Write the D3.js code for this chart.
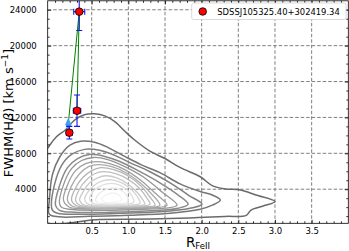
<!DOCTYPE html>
<html>
<head>
<meta charset="utf-8">
<script src="https://cdn.jsdelivr.net/npm/d3@7"></script>
<style>
  html, body { margin: 0; padding: 0; background: #fff; }
  svg { display: block; font-family: "DejaVu Sans", sans-serif; }
</style>
</head>
<body>
<svg id="chart" width="349" height="251"></svg>
<script>
/********************** DATA *************************/
const xTickValues = [0.5, 1.0, 1.5, 2.0, 2.5, 3.0, 3.5];
const yTickValues = [4000, 8000, 12000, 16000, 20000, 24000];
const legendLabel = "SDSSJ105325.40+302419.34";

// epochs of the source (red circles) with error bars
const epochR = [0.33, 0.30, 0.195];
const epochFwhm = [23790, 12750, 10300];
const epochRErr = [0.075, 0.05, 0.04];
const epochFwhmErr = [2100, 1750, 700];

// light blue marker
const blueR = [0.18];
const blueFwhm = [11210];

// green track joining the points
const trackR = [0.18, 0.33, 0.30];
const trackFwhm = [11210, 23790, 12750];

// density contours of the parent sample, outermost first, [R_FeII, FWHM]
const contourLines = [
  [[-0.2,600],[-0.2,7000],[-0.07,8930],[0.02,9850],[0.14,10600],[0.27,11720],[0.40,12290],[0.54,12400],[0.68,12175],[0.82,11500],[0.95,10480],[1.09,9460],[1.30,8215],[1.50,7420],[1.71,6400],[1.98,5390],[2.15,4370],[2.32,4030],[2.53,3915],[2.74,3350],[3.0,2620],[2.83,2100],[2.67,1650],[2.61,1090],[2.32,970],[1.84,800],[1.30,690],[0.61,630]],
  [[-0.077,2784],[-0.036,5612],[0.06,7535],[0.198,8890],[0.349,9350],[0.54,9230],[0.719,8670],[0.952,7650],[1.17,6745],[1.43,5840],[1.706,4590],[1.98,3745],[2.145,3350],[2.255,2785],[2.145,2218],[1.98,1765],[1.57,1310],[1.02,1086],[0.47,973],[0.06,917],[-0.077,1200]],
  [[-0.05,2218],[-0.008,4480],[0.088,6630],[0.225,7875],[0.403,8440],[0.609,8330],[0.815,7765],[1.02,6970],[1.295,5950],[1.57,4710],[1.817,3350],[2.004,2330],[1.84,1870],[1.43,1480],[0.88,1310],[0.335,1200],[0.033,1310],[-0.036,1650]],
  [[0.006,2218],[0.06,4370],[0.17,6400],[0.307,7420],[0.472,7875],[0.678,7650],[0.884,7085],[1.16,5950],[1.43,4710],[1.68,3350],[1.816,2330],[1.68,1880],[1.295,1595],[0.746,1425],[0.266,1425],[0.06,1650]],
  [[0.06,2445],[0.115,4480],[0.225,6290],[0.362,7195],[0.527,7535],[0.719,7310],[0.952,6520],[1.2,5385],[1.46,3690],[1.665,2220],[1.5,1880],[1.02,1710],[0.54,1650],[0.198,1765],[0.088,1990]],
  [[0.115,2784],[0.17,4480],[0.28,6065],[0.417,6860],[0.568,7085],[0.746,6860],[0.952,6180],[1.16,5045],[1.364,3575],[1.528,2220],[1.364,1935],[0.884,1820],[0.403,1820],[0.198,1990]],
  [[0.17,2784],[0.225,4370],[0.335,5725],[0.458,6520],[0.595,6745],[0.774,6520],[0.966,5840],[1.16,4710],[1.33,3350],[1.43,2220],[1.295,1990],[0.856,1935],[0.445,1935],[0.239,2105]],
  [[0.225,2784],[0.28,4140],[0.376,5270],[0.5,6065],[0.623,6405],[0.801,6180],[0.993,5500],[1.17,4370],[1.295,3120],[1.364,2220],[1.226,2050],[0.815,1990],[0.472,1990],[0.294,2160]],
  [[0.28,2784],[0.335,4030],[0.431,5045],[0.541,5725],[0.664,5950],[0.829,5725],[1.007,5045],[1.16,4030],[1.253,3010],[1.295,2330],[1.16,2105],[0.774,2050],[0.472,2050],[0.335,2220]],
  [[0.335,2784],[0.39,3800],[0.472,4710],[0.582,5270],[0.692,5500],[0.843,5270],[0.993,4590],[1.116,3690],[1.2,2784],[1.226,2330],[1.09,2160],[0.747,2105],[0.472,2105],[0.376,2330]],
  [[0.403,2900],[0.458,3800],[0.54,4480],[0.65,4930],[0.774,5045],[0.911,4710],[1.034,4030],[1.116,3240],[1.16,2445],[1.02,2220],[0.72,2160],[0.5,2220],[0.431,2445]],
  [[0.472,2900],[0.513,3690],[0.595,4250],[0.705,4590],[0.829,4590],[0.952,4140],[1.034,3460],[1.075,2560],[0.938,2330],[0.692,2275],[0.527,2390]],
  [[0.554,2900],[0.595,3460],[0.678,3915],[0.788,4140],[0.897,3915],[0.98,3240],[0.993,2560],[0.856,2390],[0.664,2390],[0.568,2560]],
  [[0.636,2900],[0.692,3350],[0.788,3575],[0.87,3350],[0.911,2784],[0.815,2560],[0.678,2560]]
];

/********************** SCALES *************************/
const svg = d3.select('#chart');
const plot = { left: 47.7, right: 348.3, top: 0.8, bottom: 223.3 };

const x = d3.scaleLinear().domain([-0.1, 4.0]).range([plot.left, plot.right]);
const y = d3.scaleLinear().domain([200, 25000]).range([plot.bottom, plot.top]);

const xMinor = d3.range(0, 40).map(i => i / 10).filter(v => !xTickValues.includes(v));
const yMinor = d3.range(1000, 25000, 1000).filter(v => v % 4000 !== 0);

svg.append('defs').append('clipPath').attr('id', 'clip')
  .append('rect')
  .attr('x', plot.left).attr('y', plot.top)
  .attr('width', plot.right - plot.left).attr('height', plot.bottom - plot.top);

/********************** GRID *************************/
const grid = svg.append('g')
  .attr('stroke', '#707070')
  .attr('stroke-width', 0.9)
  .attr('stroke-dasharray', '3.5,2');

grid.selectAll('.vg').data(xTickValues).join('line')
  .attr('x1', d => x(d)).attr('x2', d => x(d))
  .attr('y1', plot.top).attr('y2', plot.bottom);

grid.selectAll('.hg').data(yTickValues).join('line')
  .attr('x1', plot.left).attr('x2', plot.right)
  .attr('y1', d => y(d)).attr('y2', d => y(d));

/********************** CONTOURS *************************/
const contourColor = d3.scaleLinear()
  .domain([0, 3, contourLines.length - 1])
  .range(['#6a6a6a', '#8a8a8a', '#f3f3f3']);

const contourPath = d3.line()
  .x(d => x(d[0]))
  .y(d => y(d[1]))
  .curve(d3.curveCatmullRomClosed.alpha(0.5));

svg.append('g').attr('clip-path', 'url(#clip)')
  .selectAll('path').data(contourLines).join('path')
  .attr('d', contourPath)
  .attr('fill', 'none')
  .attr('stroke', (d, i) => contourColor(i))
  .attr('stroke-width', (d, i) => i < 4 ? 1.5 : 1.3)
  .attr('stroke-linejoin', 'round');

/********************** SOURCE *************************/
const marks = svg.append('g').attr('clip-path', 'url(#clip)');

// green track
marks.append('path')
  .datum(d3.zip(trackR, trackFwhm))
  .attr('d', d3.line().x(d => x(d[0])).y(d => y(d[1])))
  .attr('fill', 'none')
  .attr('stroke', '#008000')
  .attr('stroke-width', 1);

// light blue marker
marks.selectAll('.blue').data(d3.zip(blueR, blueFwhm)).join('path')
  .attr('d', d3.symbol(d3.symbolDiamond, 52))
  .attr('transform', d => `translate(${x(d[0])},${y(d[1])}) scale(0.75,1)`)
  .attr('fill', '#3d9df5');

// error bars
const epochs = epochR.map((r, i) => ({ r: r, f: epochFwhm[i], er: epochRErr[i], ef: epochFwhmErr[i] }));
const bars = marks.append('g').attr('stroke', '#1515ee').attr('stroke-width', 1.1);
const cap = 3;

epochs.forEach(d => {
  const cx = x(d.r), cy = y(d.f);
  const x0 = x(d.r - d.er), x1 = x(d.r + d.er);
  const y0 = y(d.f - d.ef), y1 = y(d.f + d.ef);
  bars.append('line').attr('x1', x0).attr('x2', x1).attr('y1', cy).attr('y2', cy);
  bars.append('line').attr('x1', cx).attr('x2', cx).attr('y1', y0).attr('y2', y1);
  bars.append('line').attr('x1', cx - cap).attr('x2', cx + cap).attr('y1', y0).attr('y2', y0);
  bars.append('line').attr('x1', cx - cap).attr('x2', cx + cap).attr('y1', y1).attr('y2', y1);
  bars.append('line').attr('x1', x0).attr('x2', x0).attr('y1', cy - cap).attr('y2', cy + cap);
  bars.append('line').attr('x1', x1).attr('x2', x1).attr('y1', cy - cap).attr('y2', cy + cap);
});

marks.selectAll('.epoch').data(epochs).join('circle')
  .attr('cx', d => x(d.r))
  .attr('cy', d => y(d.f))
  .attr('r', 3.8)
  .attr('fill', '#ff0000')
  .attr('stroke', '#000')
  .attr('stroke-width', 0.8);

/********************** AXES *************************/
function styleAxis(g) {
  g.select('.domain').remove();
  g.selectAll('.tick line').attr('stroke', '#000').attr('stroke-width', 0.8);
  g.selectAll('.tick text').attr('fill', '#000').attr('font-size', '8.5px')
    .attr('font-family', '"DejaVu Sans", sans-serif');
}

// major + minor ticks on all four sides, pointing in
svg.append('g').attr('transform', `translate(0,${plot.bottom})`)
  .call(d3.axisBottom(x).tickValues(xTickValues).tickSize(-3.5).tickPadding(4.7).tickFormat(d3.format('.1f')))
  .call(styleAxis);
svg.append('g').attr('transform', `translate(0,${plot.bottom})`)
  .call(d3.axisBottom(x).tickValues(xMinor).tickSize(-2).tickFormat(''))
  .call(styleAxis);
svg.append('g').attr('transform', `translate(0,${plot.top})`)
  .call(d3.axisTop(x).tickValues(xTickValues).tickSize(-3.5).tickFormat(''))
  .call(styleAxis);
svg.append('g').attr('transform', `translate(0,${plot.top})`)
  .call(d3.axisTop(x).tickValues(xMinor).tickSize(-2).tickFormat(''))
  .call(styleAxis);

svg.append('g').attr('transform', `translate(${plot.left},0)`)
  .call(d3.axisLeft(y).tickValues(yTickValues).tickSize(-3.5).tickPadding(11).tickFormat(d3.format('d')))
  .call(styleAxis);
svg.append('g').attr('transform', `translate(${plot.left},0)`)
  .call(d3.axisLeft(y).tickValues(yMinor).tickSize(-2).tickFormat(''))
  .call(styleAxis);
svg.append('g').attr('transform', `translate(${plot.right},0)`)
  .call(d3.axisRight(y).tickValues(yTickValues).tickSize(-3.5).tickFormat(''))
  .call(styleAxis);
svg.append('g').attr('transform', `translate(${plot.right},0)`)
  .call(d3.axisRight(y).tickValues(yMinor).tickSize(-2).tickFormat(''))
  .call(styleAxis);

// frame
svg.append('rect')
  .attr('x', plot.left).attr('y', plot.top)
  .attr('width', plot.right - plot.left).attr('height', plot.bottom - plot.top)
  .attr('fill', 'none').attr('stroke', '#000').attr('stroke-width', 0.8);

// axis titles
const xLabel = svg.append('text')
  .attr('x', (plot.left + plot.right) / 2).attr('y', 247.3)
  .attr('text-anchor', 'middle').attr('fill', '#000');
xLabel.append('tspan').attr('font-size', '13.5px').text('R');
xLabel.append('tspan').attr('font-size', '8.5px').attr('dy', 2).text('FeII');

const yLabel = svg.append('text')
  .attr('transform', `translate(12.5,${(plot.top + plot.bottom) / 2 + 1}) rotate(-90)`)
  .attr('text-anchor', 'middle').attr('fill', '#000').attr('font-size', '13px');
yLabel.append('tspan').text('FWHM(H');
yLabel.append('tspan').attr('font-style', 'italic').text('β');
yLabel.append('tspan').text(') [km s');
yLabel.append('tspan').attr('font-size', '9px').attr('dy', -5).text('−1');
yLabel.append('tspan').attr('dy', 5).text(']');

/********************** LEGEND *************************/
const legend = svg.append('g');
legend.append('rect')
  .attr('x', 191.7).attr('y', 3).attr('width', 154.3).attr('height', 16.5)
  .attr('rx', 2).attr('fill', '#fff').attr('stroke', '#d0d0d0').attr('stroke-width', 0.8);
legend.append('circle')
  .attr('cx', 202.7).attr('cy', 11.5).attr('r', 3.8)
  .attr('fill', '#ff0000').attr('stroke', '#000').attr('stroke-width', 0.8);
legend.append('text')
  .attr('x', 217.3).attr('y', 14.5)
  .attr('font-size', '8.4px').attr('fill', '#000')
  .text(legendLabel);
</script>
</body>
</html>
